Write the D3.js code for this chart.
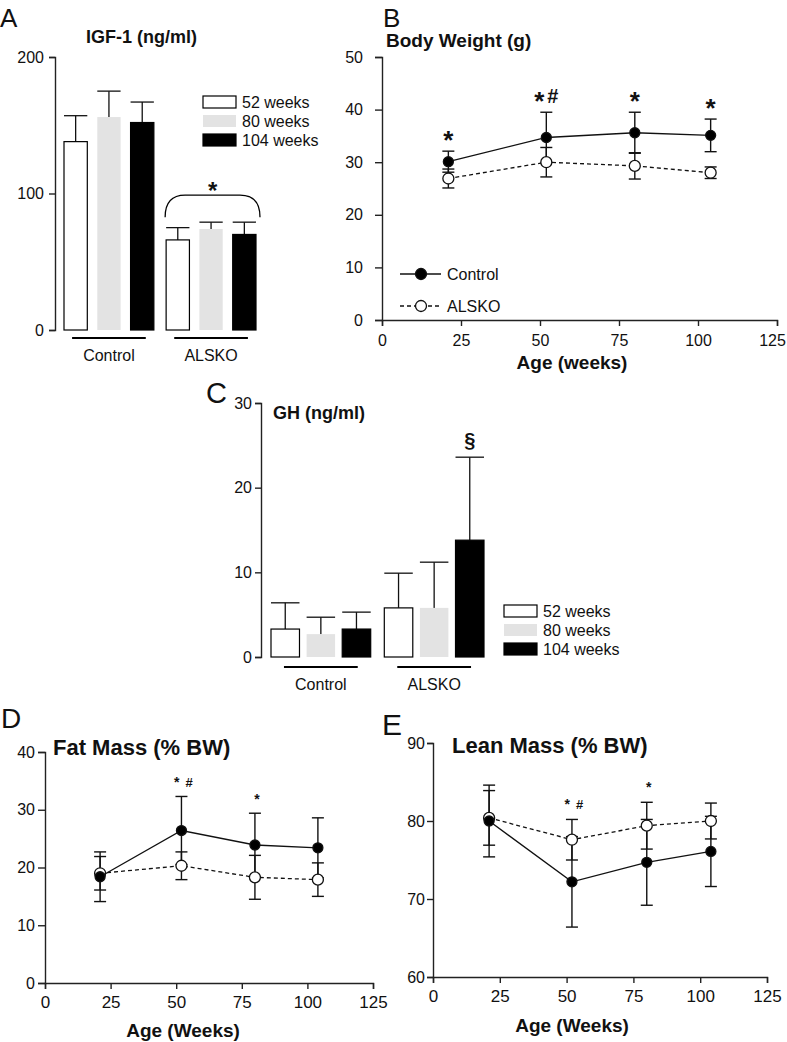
<!DOCTYPE html>
<html>
<head>
<meta charset="utf-8">
<script src="https://cdn.jsdelivr.net/npm/d3@7"></script>
<style>
  body { margin: 0; background: #fff; }
  svg text { font-family: "Liberation Sans", Arial, sans-serif; fill: #111; }
</style>
</head>
<body>
<svg id="chart" width="787" height="1042"></svg>
<script>
// ---- data ----
const groups = ['Control', 'ALSKO'];
const ages = ['52 weeks', '80 weeks', '104 weeks'];
const ageFill = ['#fff', '#e3e3e3', '#000'];

// A: IGF-1 (ng/ml), rows = groups, cols = ages
const igfMean = [[138, 156, 152], [66, 74, 70]];
const igfErr = [[19, 19, 15], [9, 5, 9]];

// C: GH (ng/ml)
const ghMean = [[3.3, 2.7, 3.3], [5.8, 5.8, 13.8]];
const ghErr = [[3.1, 2.0, 2.0], [4.1, 5.4, 9.8]];

const weeks = [21, 52, 80, 104];
const xTicks = [0, 25, 50, 75, 100, 125];

// B: body weight (g)
const bwControl = [30.1, 34.7, 35.6, 35.1];
const bwControlErr = [2.0, 4.8, 3.9, 3.1];
const bwAlsko = [26.9, 30.0, 29.3, 28.0];
const bwAlskoErr = [1.8, 2.8, 2.5, 1.1];
const bwMarks = ['*', '*#', '*', '*'];

// D: fat mass (% BW)
const fatControl = [18.4, 26.4, 23.9, 23.4];
const fatControlErr = [4.3, 5.9, 5.5, 5.2];
const fatAlsko = [19.0, 20.3, 18.3, 17.9];
const fatAlskoErr = [2.9, 2.4, 3.8, 2.9];
const fatMarks = ['', '*#', '*', ''];

// E: lean mass (% BW)
const leanControl = [80.0, 72.2, 74.7, 76.1];
const leanControlErr = [4.6, 5.8, 5.5, 4.5];
const leanAlsko = [80.4, 77.6, 79.4, 80.0];
const leanAlskoErr = [3.5, 2.6, 3.0, 2.3];
const leanMarks = ['', '*#', '*', ''];

const svg = d3.select('#chart');
const ink = '#111';

function styleAxis(sel, fs) {
  sel.attr('font-size', fs).attr('font-family', null);
  sel.select('.domain').attr('stroke', '#222').attr('stroke-width', 1.4);
  sel.selectAll('.tick line').attr('stroke', '#222').attr('stroke-width', 1.4);
  sel.selectAll('.tick text').attr('fill', ink);
}

function label(txt, x, y, size, opts = {}) {
  return svg.append('text')
    .attr('x', x).attr('y', y)
    .attr('font-size', size)
    .attr('font-weight', opts.bold ? 'bold' : 'normal')
    .attr('text-anchor', opts.anchor || 'start')
    .text(txt);
}

function legendBars(x, y) {
  const lg = svg.append('g').attr('transform', `translate(${x},${y})`);
  ages.forEach((a, i) => {
    lg.append('rect').attr('x', 0).attr('y', i * 19).attr('width', 33).attr('height', 12)
      .attr('fill', ageFill[i]).attr('stroke', i === 1 ? 'none' : '#000').attr('stroke-width', 1.2);
    lg.append('text').attr('x', 39).attr('y', i * 19 + 12).attr('font-size', 16).text(a);
  });
}

// ---- bar panels (A, C) ----
function drawBars(c) {
  const y = d3.scaleLinear().domain(c.yDomain).range(c.yRange);
  const x0 = d3.scaleBand().domain(groups).range(c.xRange).paddingInner(0.12);
  const x1 = d3.scaleBand().domain(ages).range([0, x0.bandwidth()]).paddingInner(c.innerPad);
  const g = svg.append('g');

  const ay = g.append('g').attr('transform', `translate(${c.axisX},0)`)
    .call(d3.axisLeft(y).tickValues(c.ticks).tickSize(6).tickPadding(c.pad));
  styleAxis(ay, 16);

  const rows = groups.flatMap((grp, gi) => ages.map((a, ai) => ({
    grp, a, ai, v: c.means[gi][ai], e: c.errs[gi][ai]
  })));
  const bx = d => x0(d.grp) + x1(d.a);

  const eg = g.append('g').attr('stroke', ink).attr('stroke-width', 1.3);
  eg.selectAll('line.v').data(rows).join('line')
    .attr('x1', d => bx(d) + x1.bandwidth() / 2).attr('x2', d => bx(d) + x1.bandwidth() / 2)
    .attr('y1', d => y(d.v)).attr('y2', d => y(d.v + d.e));
  eg.selectAll('line.c').data(rows).join('line')
    .attr('x1', d => bx(d)).attr('x2', d => bx(d) + x1.bandwidth())
    .attr('y1', d => y(d.v + d.e)).attr('y2', d => y(d.v + d.e));

  g.selectAll('rect.bar').data(rows).join('rect')
    .attr('x', d => bx(d)).attr('width', x1.bandwidth())
    .attr('y', d => y(d.v)).attr('height', d => y(0) - y(d.v))
    .attr('fill', d => ageFill[d.ai])
    .attr('stroke', d => d.ai === 1 ? 'none' : '#000').attr('stroke-width', 1.2);

  groups.forEach(grp => {
    const mid = x0(grp) + x0.bandwidth() / 2;
    const half = x0.bandwidth() * c.lineFrac / 2;
    g.append('line').attr('x1', mid - half).attr('x2', mid + half)
      .attr('y1', y(0) + c.lineGap).attr('y2', y(0) + c.lineGap)
      .attr('stroke', '#000').attr('stroke-width', 2);
    label(grp, mid, y(0) + c.lineGap + 23, 16, { anchor: 'middle' });
  });
  return { x0, x1, y };
}

// ---- A ----
label('A', 0, 27, 26);
label('IGF-1 (ng/ml)', 86, 43, 18, { bold: true });
const A = drawBars({
  yDomain: [0, 200], yRange: [330, 57], ticks: [0, 100, 200], axisX: 55, pad: 5,
  xRange: [64, 256], innerPad: 0.3, means: igfMean, errs: igfErr, lineFrac: 0.82, lineGap: 8
});
legendBars(203, 96);
{
  const left = A.x0('ALSKO') - 1, right = A.x0('ALSKO') + A.x0.bandwidth() + 4;
  const topErr = d3.max(igfMean[1].map((m, i) => m + igfErr[1][i]));
  const yb = A.y(topErr) - 5, yt = A.y(topErr) - 27;
  svg.append('path')
    .attr('d', `M${left},${yb} Q${left},${yt} ${left + 20},${yt} L${right - 20},${yt} Q${right},${yt} ${right},${yb}`)
    .attr('fill', 'none').attr('stroke', '#000').attr('stroke-width', 1.3);
  label('*', (left + right) / 2, yt + 4, 24, { bold: true, anchor: 'middle' });
}

// ---- C ----
label('C', 206, 403, 29);
label('GH (ng/ml)', 273, 419, 18, { bold: true });
const C = drawBars({
  yDomain: [0, 30], yRange: [657, 403], ticks: [0, 10, 20, 30], axisX: 261, pad: 3,
  xRange: [271, 484], innerPad: 0.2, means: ghMean, errs: ghErr, lineFrac: 0.74, lineGap: 10
});
legendBars(504, 605);
label('§', C.x0('ALSKO') + C.x1('104 weeks') + C.x1.bandwidth() / 2,
  C.y(ghMean[1][2] + ghErr[1][2]) - 10, 20, { bold: true, anchor: 'middle' });

// ---- scatter panels (B, D, E) ----
function drawScatter(c) {
  const x = d3.scaleLinear().domain([0, 125]).range(c.xRange);
  const y = d3.scaleLinear().domain(c.yDomain).range(c.yRange);
  const g = svg.append('g');

  const ax = g.append('g').attr('transform', `translate(0,${c.yRange[0]})`)
    .call(d3.axisBottom(x).tickValues(xTicks).tickSize(6).tickPadding(c.xPad));
  const ay = g.append('g').attr('transform', `translate(${c.xRange[0]},0)`)
    .call(d3.axisLeft(y).tickValues(c.yTicks).tickSize(c.yTick).tickPadding(c.yPad));
  styleAxis(ax, c.fs);
  styleAxis(ay, c.yfs || c.fs);
  // last x label sits a little inward, as in the original
  ax.selectAll('.tick text').filter(d => d === 125).attr('dx', c.lastDx || 0);

  const series = [
    { v: c.alk, e: c.alkErr, fill: '#fff', dash: '4,3', r: 5.5 },
    { v: c.ctl, e: c.ctlErr, fill: '#000', dash: null, r: 5 }
  ].map(s => ({ ...s, pts: weeks.map((w, i) => ({ w, v: s.v[i], e: s.e[i] })) }));

  const eg = g.append('g').attr('stroke', ink).attr('stroke-width', 1.4);
  series.forEach(s => {
    eg.append('g').selectAll('line').data(s.pts).join('line')
      .attr('x1', d => x(d.w)).attr('x2', d => x(d.w))
      .attr('y1', d => y(d.v - d.e)).attr('y2', d => y(d.v + d.e));
    [1, -1].forEach(sign => {
      eg.append('g').selectAll('line').data(s.pts).join('line')
        .attr('x1', d => x(d.w) - 6).attr('x2', d => x(d.w) + 6)
        .attr('y1', d => y(d.v + sign * d.e)).attr('y2', d => y(d.v + sign * d.e));
    });
  });

  const line = d3.line().x(d => x(d.w)).y(d => y(d.v));
  series.forEach(s => {
    g.append('path').datum(s.pts).attr('d', line)
      .attr('fill', 'none').attr('stroke', ink).attr('stroke-width', 1.3)
      .attr('stroke-dasharray', s.dash);
    g.append('g').selectAll('circle').data(s.pts).join('circle')
      .attr('cx', d => x(d.w)).attr('cy', d => y(d.v)).attr('r', s.r)
      .attr('fill', s.fill).attr('stroke', ink).attr('stroke-width', 1.3);
  });

  // significance marks above the highest error bar at each age
  c.marks.forEach((m, i) => {
    if (!m) return;
    const top = Math.min(y(c.ctl[i] + c.ctlErr[i]), y(c.alk[i] + c.alkErr[i]));
    const t = g.append('text').attr('x', x(weeks[i]) + c.markDx).attr('y', top - c.markGap)
      .attr('text-anchor', 'middle').attr('font-weight', 'bold').attr('font-size', c.markSize);
    t.append('tspan').text('*');
    if (m.includes('#')) {
      t.append('tspan').attr('dx', c.hashDx).attr('dy', c.hashDy)
        .attr('font-size', c.hashSize).text('#');
    }
  });
  return { x, y };
}

// ---- B ----
label('B', 383, 27, 26);
label('Body Weight (g)', 386, 47, 19, { bold: true });
drawScatter({
  xRange: [382, 777], yDomain: [0, 50], yRange: [320, 57], yTicks: [0, 10, 20, 30, 40, 50],
  yTick: 7, yPad: 12, xPad: 9, fs: 16, lastDx: -5,
  ctl: bwControl, ctlErr: bwControlErr, alk: bwAlsko, alkErr: bwAlskoErr,
  marks: bwMarks, markSize: 26, markGap: 2, markDx: 0, hashDx: 3, hashDy: -7, hashSize: 20
});
label('Age (weeks)', 572, 369, 19, { bold: true, anchor: 'middle' });
{
  const lg = svg.append('g');
  [['Control', '#000', null, 274], ['ALSKO', '#fff', '4,3', 306]].forEach(([name, fill, dash, ly]) => {
    lg.append('line').attr('x1', 400).attr('x2', 441).attr('y1', ly).attr('y2', ly)
      .attr('stroke', ink).attr('stroke-width', 1.3).attr('stroke-dasharray', dash);
    lg.append('circle').attr('cx', 421).attr('cy', ly).attr('r', 5.5)
      .attr('fill', fill).attr('stroke', ink).attr('stroke-width', 1.3);
    lg.append('text').attr('x', 447).attr('y', ly + 6).attr('font-size', 16).text(name);
  });
}

// ---- D ----
label('D', 1, 728, 28);
label('Fat Mass (% BW)', 53, 755, 22, { bold: true });
drawScatter({
  xRange: [45, 373], yDomain: [0, 40], yRange: [983, 752], yTicks: [0, 10, 20, 30, 40],
  yTick: 7, yPad: 3, xPad: 7, fs: 17, yfs: 16,
  ctl: fatControl, ctlErr: fatControlErr, alk: fatAlsko, alkErr: fatAlskoErr,
  marks: fatMarks, markSize: 14, markGap: 9, markDx: 2, hashDx: 6, hashDy: 0, hashSize: 13
});
label('Age (Weeks)', 183, 1037, 19, { bold: true, anchor: 'middle' });

// ---- E ----
label('E', 382, 735, 30);
label('Lean Mass (% BW)', 452, 753, 22, { bold: true });
drawScatter({
  xRange: [433, 767], yDomain: [60, 90], yRange: [977, 743], yTicks: [60, 70, 80, 90],
  yTick: 6, yPad: 2, xPad: 7, fs: 17, yfs: 16,
  ctl: leanControl, ctlErr: leanControlErr, alk: leanAlsko, alkErr: leanAlskoErr,
  marks: leanMarks, markSize: 14, markGap: 10, markDx: 2, hashDx: 6, hashDy: 0, hashSize: 13
});
label('Age (Weeks)', 572, 1032, 19, { bold: true, anchor: 'middle' });
</script>
</body>
</html>
